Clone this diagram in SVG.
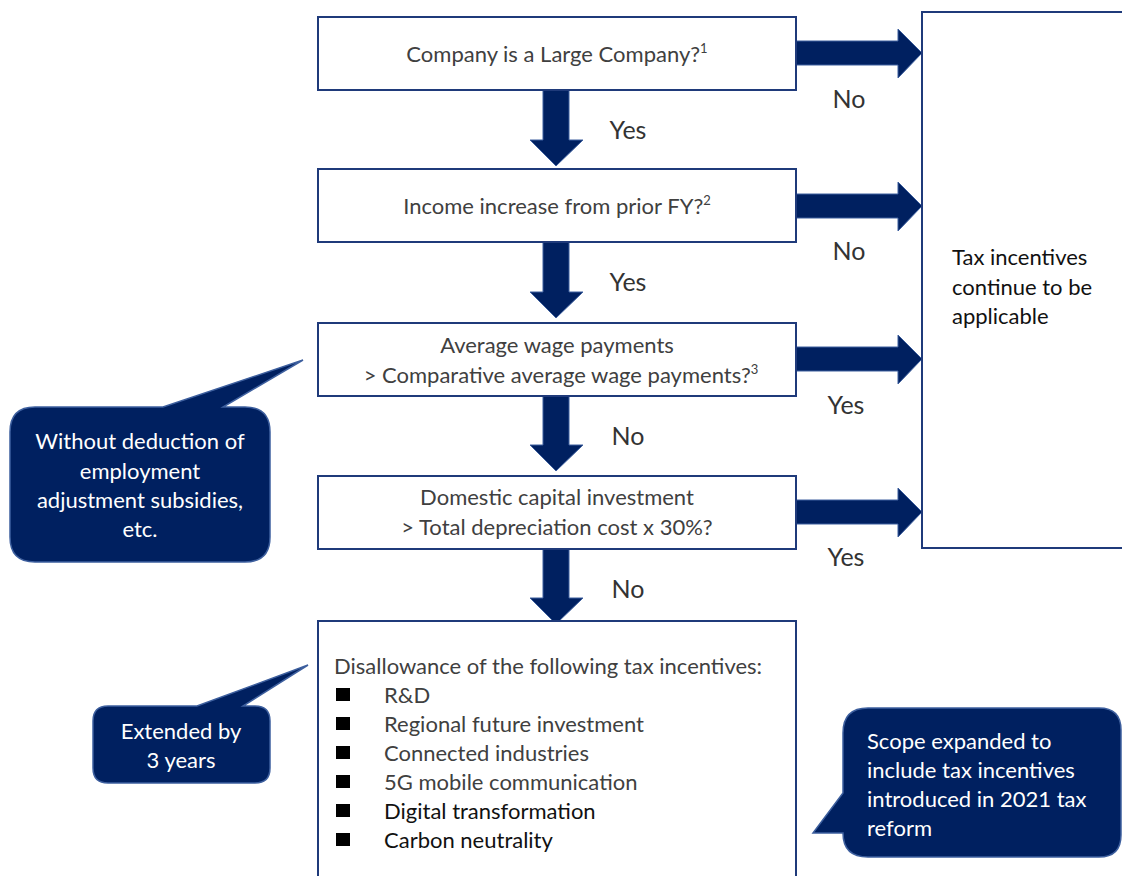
<svg xmlns="http://www.w3.org/2000/svg" width="1122" height="876" viewBox="0 0 1122 876">
<style>
.box{fill:#fff;stroke:#1F3A7A;stroke-width:2}
.arr{fill:#002060;stroke:#3D5F9E;stroke-width:1}
.call{fill:#002060;stroke:#3D5F9E;stroke-width:1.5}
.t{font-family:Lato,"Liberation Sans",sans-serif;font-size:22px;fill:#404040}
.lbl{font-family:Lato,"Liberation Sans",sans-serif;font-size:25px;fill:#333}
.w{font-family:Lato,"Liberation Sans",sans-serif;font-size:22px;fill:#fff}
.b{font-family:Lato,"Liberation Sans",sans-serif;font-size:22px;fill:#111}
.sup{font-size:13px}
</style>
<rect width="1122" height="876" fill="#fff"/>
<g id="connectors">
<path class="arr" d="M543 90 H569 V140 H583 L556 166 L530 140 H543 Z"/>
<path class="arr" d="M543 242 H569 V292 H583 L556 318 L530 292 H543 Z"/>
<path class="arr" d="M543 396 H569 V445 H583 L556 471 L530 445 H543 Z"/>
<path class="arr" d="M543 549 H569 V598 H583 L556 624 L530 598 H543 Z"/>
<path class="arr" d="M796 41 H898 V29 L922 53 L898 78 V65 H796 Z"/>
<path class="arr" d="M796 194 H898 V182 L922 206 L898 231 V218 H796 Z"/>
<path class="arr" d="M796 347 H898 V335 L922 359 L898 384 V371 H796 Z"/>
<path class="arr" d="M796 500 H898 V488 L922 512 L898 537 V524 H796 Z"/>
<text class="lbl" x="849" y="108" text-anchor="middle">No</text>
<text class="lbl" x="628" y="139" text-anchor="middle">Yes</text>
<text class="lbl" x="849" y="260" text-anchor="middle">No</text>
<text class="lbl" x="628" y="291" text-anchor="middle">Yes</text>
<text class="lbl" x="846" y="414" text-anchor="middle">Yes</text>
<text class="lbl" x="628" y="445" text-anchor="middle">No</text>
<text class="lbl" x="846" y="566" text-anchor="middle">Yes</text>
<text class="lbl" x="628" y="598" text-anchor="middle">No</text>
</g>
<g id="n1">
<rect class="box" x="318" y="17" width="478" height="73"/>
<text class="t" x="557" y="62" text-anchor="middle">Company is a Large Company?<tspan class="sup" dy="-9">1</tspan></text>
</g>
<g id="n2">
<rect class="box" x="318" y="169" width="478" height="73"/>
<text class="t" x="557" y="214" text-anchor="middle">Income increase from prior FY?<tspan class="sup" dy="-9">2</tspan></text>
</g>
<g id="n3">
<rect class="box" x="318" y="323" width="478" height="73"/>
<text class="t" x="557" y="353" text-anchor="middle">Average wage payments</text>
<text class="t" x="561" y="383" text-anchor="middle">&gt; Comparative average wage payments?<tspan class="sup" dy="-9">3</tspan></text>
</g>
<g id="n4">
<rect class="box" x="318" y="476" width="478" height="73"/>
<text class="t" x="557" y="505" text-anchor="middle">Domestic capital investment</text>
<text class="t" x="557" y="535" text-anchor="middle">&gt; Total depreciation cost x 30%?</text>
</g>
<g id="n5">
<rect class="box" x="318" y="621" width="478" height="270"/>
<text class="t" x="334" y="674">Disallowance of the following tax incentives:</text>
<g fill="#000">
<rect x="336" y="688" width="14" height="13"/>
<rect x="336" y="717" width="14" height="13"/>
<rect x="336" y="746" width="14" height="13"/>
<rect x="336" y="775" width="14" height="13"/>
<rect x="336" y="804" width="14" height="13"/>
<rect x="336" y="833" width="14" height="13"/>
</g>
<text class="t" x="384" y="703">R&amp;D</text>
<text class="t" x="384" y="732">Regional future investment</text>
<text class="t" x="384" y="761">Connected industries</text>
<text class="t" x="384" y="790">5G mobile communication</text>
<text class="b" x="384" y="819">Digital transformation</text>
<text class="b" x="384" y="848">Carbon neutrality</text>
</g>
<g id="n6">
<rect class="box" x="922" y="12" width="220" height="536"/>
<text class="b" x="952" y="265">Tax incentives</text>
<text class="b" x="952" y="295">continue to be</text>
<text class="b" x="952" y="324">applicable</text>
</g>
<g id="c1">
<path class="call" d="M35 407 H163 L303 360 L223 407 H245 Q270 407 270 432 V537 Q270 562 245 562 H35 Q10 562 10 537 V432 Q10 407 35 407 Z"/>
<text class="w" x="140" y="449" text-anchor="middle">Without deduction of</text>
<text class="w" x="140" y="479" text-anchor="middle">employment</text>
<text class="w" x="140" y="508" text-anchor="middle">adjustment subsidies,</text>
<text class="w" x="140" y="537" text-anchor="middle">etc.</text>
</g>
<g id="c2">
<path class="call" d="M108 706 H197 L308 665 L243 706 H255 Q270 706 270 721 V768 Q270 783 255 783 H108 Q93 783 93 768 V721 Q93 706 108 706 Z"/>
<text class="w" x="181" y="739" text-anchor="middle">Extended by</text>
<text class="w" x="181" y="768" text-anchor="middle">3 years</text>
</g>
<g id="c3">
<path class="call" d="M868 708 H1099 Q1121 708 1121 730 V835 Q1121 857 1099 857 H868 Q843 857 843 833 L813 833 L843 793 V733 Q843 708 868 708 Z"/>
<text class="w" x="867" y="749">Scope expanded to</text>
<text class="w" x="867" y="778">include tax incentives</text>
<text class="w" x="867" y="807">introduced in 2021 tax</text>
<text class="w" x="867" y="836">reform</text>
</g>
</svg>
